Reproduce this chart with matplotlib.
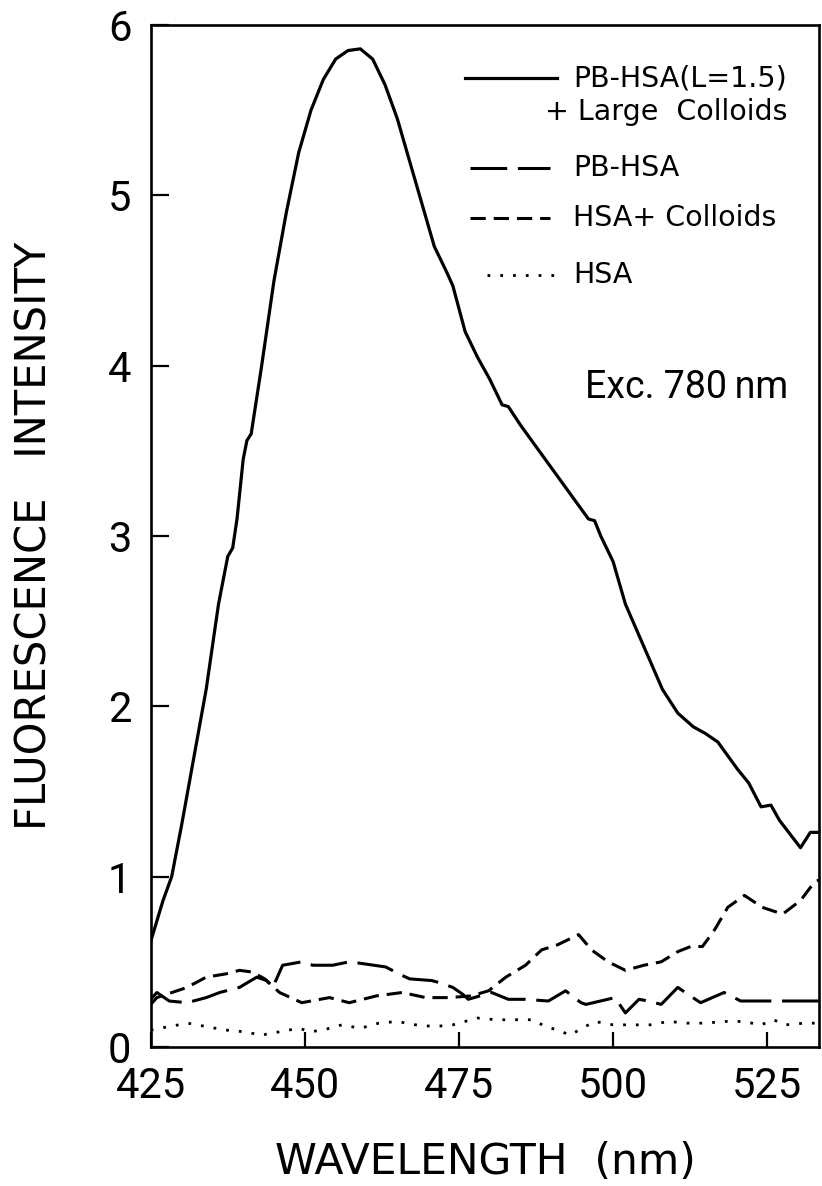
import matplotlib
matplotlib.use("Agg")
import matplotlib.pyplot as plt
from matplotlib.lines import Line2D

plt.rcParams['font.family'] = ['Roboto', 'DejaVu Sans']

# ---- data ----
wl_main = [425, 426, 427, 428.4, 430, 432, 434, 436, 437.5, 438.3, 439, 440, 440.6, 441.3,
           443, 445, 447, 449, 451, 453, 455, 457, 459, 461, 463, 465, 467, 469, 471, 473,
           474, 476, 478, 480, 482, 483, 485, 488, 490, 492, 494, 496, 497, 498, 500, 502,
           505, 508, 510.5, 513, 515, 517, 520.2, 522, 524, 525.6, 527, 530.4, 532, 533.4]
int_main = [0.62, 0.74, 0.86, 1.0, 1.3, 1.7, 2.1, 2.6, 2.88, 2.93, 3.1, 3.45, 3.56, 3.6,
            4.0, 4.5, 4.9, 5.25, 5.5, 5.68, 5.8, 5.85, 5.86, 5.8, 5.65, 5.45, 5.2, 4.95, 4.7, 4.55,
            4.47, 4.2, 4.05, 3.92, 3.77, 3.76, 3.65, 3.5, 3.4, 3.3, 3.2, 3.1, 3.09, 3.0, 2.85, 2.6,
            2.35, 2.1, 1.96, 1.88, 1.84, 1.79, 1.63, 1.55, 1.41, 1.42, 1.33, 1.17, 1.26, 1.26]

wl_pb = [425, 426, 428, 430.9, 434, 436.2, 439.4, 442.2, 443.8, 444.8, 446.4, 449.5, 451.3,
         454.5, 457.2, 459.3, 463.1, 465.8, 467, 470.6, 471.6, 474, 475.6, 476.5, 480.3, 483,
         485.6, 489.5, 492.3, 494.8, 495.6, 500.3, 502, 504.2, 505.7, 507.8, 510.5, 512.1,
         514.2, 518, 520.7, 522.9, 527.2, 531.5, 533.4]
int_pb = [0.28, 0.32, 0.27, 0.26, 0.29, 0.32, 0.35, 0.41, 0.39, 0.35, 0.48, 0.5, 0.48,
          0.48, 0.5, 0.49, 0.47, 0.42, 0.4, 0.39, 0.38, 0.35, 0.31, 0.28, 0.32, 0.28,
          0.28, 0.27, 0.33, 0.26, 0.25, 0.29, 0.2, 0.28, 0.27, 0.25, 0.35, 0.31,
          0.26, 0.32, 0.27, 0.27, 0.27, 0.27, 0.27]

wl_hc = [425, 426, 430.9, 434, 437.3, 439.4, 441.5, 443.5, 445.9, 449.5, 454, 457.2, 461.6,
         465.8, 469.6, 473.4, 477, 479.8, 482.6, 485.8, 488.4, 491, 494.4, 496.5, 499.2, 502,
         505, 507.8, 510.5, 512.6, 514.5, 516.5, 518.6, 521.3, 524.2, 527.5, 530.4, 532.7, 533.4]
int_hc = [0.25, 0.29, 0.35, 0.41, 0.43, 0.45, 0.44, 0.4, 0.32, 0.26, 0.29, 0.26, 0.3,
          0.32, 0.29, 0.29, 0.3, 0.33, 0.41, 0.48, 0.57, 0.6, 0.66, 0.57, 0.5, 0.45,
          0.48, 0.5, 0.56, 0.59, 0.59, 0.69, 0.82, 0.89, 0.82, 0.78, 0.86, 0.97, 0.98]

wl_hsa = [425, 428, 431, 434, 437, 440, 443, 446, 449, 451, 453, 456, 459, 462, 465, 468,
          471, 474, 476, 478, 481, 484, 487, 489, 491, 493, 495, 497, 500, 503, 506, 509,
          512, 515, 518, 521, 524, 526, 528, 531, 533.4]
int_hsa = [0.1, 0.12, 0.14, 0.12, 0.1, 0.09, 0.07, 0.09, 0.11, 0.09, 0.1, 0.13, 0.11, 0.14,
           0.15, 0.13, 0.12, 0.13, 0.15, 0.17, 0.16, 0.16, 0.16, 0.12, 0.1, 0.07, 0.11, 0.15,
           0.13, 0.13, 0.13, 0.15, 0.14, 0.14, 0.15, 0.15, 0.13, 0.16, 0.13, 0.14, 0.14]

x_ticks = [425, 450, 475, 500, 525]
y_ticks = [0, 1, 2, 3, 4, 5, 6]

labels = ["PB-HSA(L=1.5)", "PB-HSA", "HSA+ Colloids", "HSA"]

# ---- figure ----
W, H = 822, 1186
fig = plt.figure(figsize=(W / 100, H / 100), dpi=100)
L, R, T, B = 150.7, 819, 25, 1047
ax = fig.add_axes([L / W, 1 - B / H, (R - L) / W, (B - T) / H])

solid = dict(color='black', lw=2.3, linestyle='-')
longdash = dict(color='black', lw=2.2, linestyle=(0, (12, 3.5)))
shortdash = dict(color='black', lw=2.2, linestyle=(0, (5, 2.6)))
dotted = dict(color='black', lw=2.0, linestyle=(0, (1, 3.6)))

ax.plot(wl_main, int_main, **solid)
ax.plot(wl_pb, int_pb, **longdash)
ax.plot(wl_hc, int_hc, **shortdash)
ax.plot(wl_hsa, int_hsa, **dotted)

ax.set_xlim(425, 533.4)
ax.set_ylim(0, 6)
ax.set_xticks(x_ticks)
ax.set_yticks(y_ticks)
ax.tick_params(axis='both', direction='in', width=1.6, labelsize=30, pad=14)
ax.tick_params(axis='x', length=11)
ax.tick_params(axis='y', length=13)
for s in ax.spines.values():
    s.set_linewidth(1.9)

lab_font = ['DejaVu Sans']
# axis labels
fig.text(35 / W, 1 - 536 / H, "FLUORESCENCE   INTENSITY", rotation=90,
         ha='center', va='center', fontsize=30, family=lab_font)
fig.text(485 / W, 1 - 1162 / H, "WAVELENGTH  (nm)", ha='center', va='center',
         fontsize=30.5, family=lab_font)

# legend (manual)
def axx(px):
    return (px - L) / (R - L)

def axy(py):
    return (B - py) / (B - T)

legend_items = [
    (solid, 465, 557, 78),
    (longdash, 470, 550, 168),
    (shortdash, 470, 550, 218),
    (dotted, 487, 558, 275),
]
for (style, x0, x1, py), lab in zip(legend_items, labels):
    ax.add_line(Line2D([axx(x0), axx(x1)], [axy(py), axy(py)], transform=ax.transAxes,
                       **style))
    ax.text(axx(573), axy(py), lab, transform=ax.transAxes, ha='left', va='center',
            fontsize=20.5, family=lab_font)
ax.text(axx(545), axy(112), "+ Large  Colloids", transform=ax.transAxes,
        ha='left', va='center', fontsize=20.5, family=lab_font)

ax.text(axx(788), axy(387), "Exc. 780\u2009nm", transform=ax.transAxes, ha='right',
        va='center', fontsize=27, family=['Roboto', 'DejaVu Sans'])

fig.savefig("out.png", dpi=100)
